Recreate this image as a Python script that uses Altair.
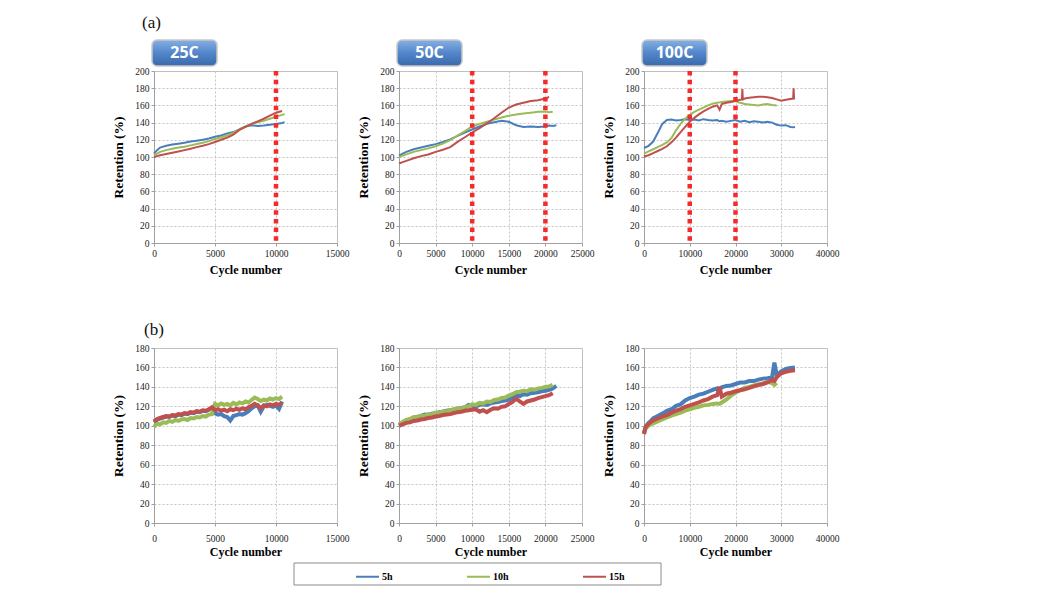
import altair as alt
import pandas as pd

SERIES = ["5h", "10h", "15h"]
COLORS = ["#4A7EBB", "#9BBB59", "#C0504D"]
SERIF = "Liberation Serif, Times New Roman, serif"

# ---------------- (a) 25C ----------------
A1_X = [0, 250, 500, 1000, 1500, 2000, 2500, 3000, 3500, 4000, 4500, 5000, 5500, 6000,
        6500, 7000, 7500, 8000, 8500, 9000, 9500, 10000, 10500, 10700]
A1_5H = [104, 108, 111, 113, 114.5, 115.5, 116.5, 118, 119, 120, 121.5, 123.5, 125, 127.5,
         129, 132, 135.5, 137, 136, 136.5, 137.5, 138.5, 139.5, 140.5]
A1_10H = [102, 104, 106, 108, 109.5, 111, 112, 113.5, 115, 116.5, 118.5, 121, 123, 125,
          128, 132, 135.5, 138.5, 140.5, 142, 144.5, 147, 149, 150]
A1_15H = [100, 101, 102, 103.5, 105, 106.5, 108, 109.5, 111.5, 113, 115, 117.5, 120, 122.5,
          126, 131.5, 135, 138.5, 141.5, 144.5, 148, 151.5, 153.5]
A1_RULES = [10000]

# ---------------- (a) 50C ----------------
A2_X = [0, 500, 1000, 2000, 3000, 4000, 5000, 6000, 7000, 8000, 9000, 10000, 11000, 12000,
        13000, 14000, 15000, 16000, 17000, 18000, 19000, 20000, 20500, 21000, 21500]
A2_5H = [101.5, 104, 106, 109, 111, 113, 115, 117.5, 120.5, 124.5, 128.5, 132, 135.5, 138.5,
         140.5, 142, 141, 137, 135, 135.5, 135, 135.5, 136.5, 136, 137]
A2_10H = [99.5, 101.5, 103, 106, 108, 110, 112.5, 115.5, 119.5, 125, 130, 135.5, 138.5, 141,
          143.5, 146, 148, 149.5, 150.5, 151.5, 152.5, 153, 152, 152.5]
A2_15H = [92.5, 94, 95.5, 98.5, 101, 103, 106, 108.5, 111.5, 117.5, 123, 128.5, 133.5, 139,
          145, 151.5, 157.5, 161, 163, 165, 166, 168, 170]
A2_RULES = [10000, 20000]

# ---------------- (a) 100C ----------------
A3_X = [0, 1000, 2000, 3000, 4000, 5000, 6000, 7000, 8000, 9000, 10000, 11000, 12000, 13000,
        14000, 15000, 16000, 16500, 17000, 18000, 19000, 20000, 21000, 21500, 22000, 23000,
        24000, 25000, 26000, 27000, 28000, 29000, 30000, 31000, 32000, 32700, 33000]
A3_5H = [110.5, 113, 118, 128, 138.5, 143, 143.5, 142.5, 143, 144, 143, 143.5, 142.5, 144,
         143, 142.5, 143, 141.5, 142, 141, 142, 143, 141, 141.5, 142, 140.5, 141.5, 141, 140,
         141, 140, 137.5, 136.5, 137, 135, 134.5, 135]
A3_10H = [104, 106.5, 109, 111.5, 114, 117, 122, 131, 138.5, 144.5, 149, 152.5, 155, 157.5,
          160, 162, 163, 163.5, 164, 164.5, 165, 165, 163, 162.5, 161.5, 161, 160.5, 160, 161,
          161.5, 160.5, 160]
A3_X_15H = [0, 1000, 2000, 3000, 4000, 5000, 6000, 7000, 8000, 9000, 10000, 11000, 12000,
            13000, 14000, 15000, 16000, 16500, 17000, 18000, 19000, 20000, 21000, 21400, 21500,
            21600, 22000, 23000, 24000, 25000, 26000, 27000, 28000, 29000, 30000, 31000, 32000,
            32600, 32700, 32800, 33000]
A3_15H = [100.5, 102, 104.5, 107, 109.5, 112.5, 117, 122.5, 129, 135, 141, 145.5, 149.5, 153,
          156, 158.5, 160, 155, 161.5, 163, 164, 165, 166.5, 167, 179, 167, 168, 169, 169.5,
          170, 170, 169.5, 168.5, 167, 165.5, 166.5, 167.5, 168, 180, 168, 168]
A3_RULES = [10000, 20000]

# ---------------- (b) panel 1 ----------------
B1_X = list(range(0, 10501, 250))
B1_5H = [103.5, 106, 107.5, 108.5, 109.5, 109, 110.5, 110, 111.5, 111, 112.5, 112, 113.5, 113,
         114.5, 114, 115.5, 115, 116.5, 118, 113, 111.5, 112, 110, 109, 105.5, 110, 111, 112,
         111.5, 113, 115, 118, 120, 121, 114.5, 120, 121.5, 120.5, 119.5, 121, 117.5, 125]
B1_10H = [99, 102, 101.5, 103.5, 103, 105, 104, 106, 105, 106.5, 107, 106, 108, 107.5, 109,
          108.5, 110, 109.5, 111.5, 112, 122.5, 121, 123, 121.5, 122.5, 121, 123.5, 122, 124,
          123, 125, 124, 126.5, 129, 127.5, 125.5, 127, 126, 128, 127, 128.5, 127.5, 130]
B1_15H = [104.5, 107, 108, 109, 110, 109.5, 111, 110.5, 112, 111.5, 113, 112.5, 114, 113.5,
          115, 114.5, 116, 115.5, 117, 119, 116, 117, 115.5, 116.5, 115, 117, 116, 117.5,
          116.5, 118, 117, 119, 120.5, 122.5, 121, 118, 121, 120, 122, 121, 122.5, 121.5, 123.5]

# ---------------- (b) panel 2 ----------------
B2_X = list(range(0, 21501, 500))
B2_5H = [101, 103.5, 105.5, 106.5, 108, 109, 110, 111.5, 111, 112.5, 113, 114, 114.5, 115.5,
         116, 116.5, 117.5, 118, 119, 121.5, 120.5, 120, 121.5, 122, 121.5, 123, 124, 124.5,
         125.5, 126, 127, 128.5, 131, 130.5, 132.5, 132, 133.5, 134, 134.5, 135.5, 136, 137,
         138.5, 141]
B2_10H = [101.5, 104, 106, 107, 109, 108.5, 110.5, 110, 112, 111.5, 113.5, 113, 115, 114.5,
          116, 117, 118, 117.5, 119.5, 120, 122, 121.5, 123.5, 123, 125, 124.5, 126.5, 127,
          128.5, 129, 131, 132.5, 134.5, 135, 136, 135.5, 137.5, 137, 138.5, 139, 140, 140.5, 142]
B2_15H = [100, 101.5, 103, 103.5, 105, 105.5, 106.5, 107, 108, 108.5, 109.5, 110, 111, 111.5,
          112, 113, 114, 114.5, 115.5, 116, 116.5, 117, 114.5, 116, 114, 116.5, 118, 117.5,
          119.5, 120, 122.5, 124.5, 128, 125, 122.5, 125, 126, 127, 128.5, 129.5, 130.5, 131.5,
          133.5]

# ---------------- (b) panel 3 ----------------
B3_X = [0, 250, 500, 1000, 1500, 2000, 3000, 4000, 5000, 6000, 7000, 8000, 9000, 10000, 11000,
        12000, 13000, 14000, 15000, 16000, 16500, 17000, 18000, 19000, 20000, 21000, 22000,
        23000, 24000, 25000, 26000, 27000, 28000, 28500, 29000, 30000, 31000, 32000, 33000]
B3_5H = [92, 97, 100, 103, 105, 107.5, 110, 112.5, 115.5, 117, 120.5, 122, 126, 128.5, 130,
         132, 133, 135, 137, 138.5, 137.5, 139.5, 141, 141.5, 143, 144.5, 144.5, 146, 146,
         147.5, 148.5, 149, 150, 165, 152, 156, 158.5, 159.5, 160]
B3_10H = [91.5, 96, 98, 100, 101.5, 102.5, 104.5, 106.5, 108.5, 110.5, 112, 113.5, 115.5, 117,
          118.5, 119.5, 121, 121.5, 122.5, 123, 122.5, 124, 127, 131, 134, 136.5, 139, 140,
          141.5, 142.5, 143.5, 145.5, 144, 142, 144]
B3_15H = [91.5, 97, 99.5, 102, 104, 105.5, 107.5, 109.5, 111, 113.5, 115.5, 117, 119.5, 121,
          122.5, 124, 126, 127.5, 130, 131.5, 140, 130, 133, 134, 135.5, 136.5, 137.5, 139,
          140.5, 142, 143, 144.5, 147, 146, 150, 154, 155.5, 156.5, 157]


def rows(pairs):
    out = []
    for name, xs, ys in pairs:
        for x, y in zip(xs, ys):
            out.append({"series": name, "x": x, "y": y})
    return pd.DataFrame(out)


color_enc = alt.Color("series:N", scale=alt.Scale(domain=SERIES, range=COLORS),
                      legend=alt.Legend(title=None))


def panel(df, xmax, xstep, ymax, height, sw, rules=None, badge=None, letter=None,
          letter_pos=(0, 0), xlabpad=2, xtitlepad=7, frame=None):
    x_enc = alt.X("x:Q", scale=alt.Scale(domain=[0, xmax], nice=False),
                  axis=alt.Axis(values=list(range(0, xmax + 1, xstep)), format="d",
                                title="Cycle number", labelPadding=xlabpad,
                                titlePadding=xtitlepad, labelFlush=False,
                                labelOverlap=False, labelFont=SERIF, titleFont=SERIF))
    y_enc = alt.Y("y:Q", scale=alt.Scale(domain=[0, ymax], nice=False),
                  axis=alt.Axis(values=list(range(0, ymax + 1, 20)), title="Retention (%)",
                                labelFlush=False, labelOverlap=False,
                                labelFont=SERIF, titleFont=SERIF))
    layers = [alt.Chart(df).mark_line(strokeWidth=sw).encode(x=x_enc, y=y_enc, color=color_enc)]
    if rules:
        layers.append(
            alt.Chart(pd.DataFrame({"x": rules})).mark_rule(
                color="#F52A2A", strokeWidth=4.5, strokeDash=[4.5, 4.2]
            ).encode(x=x_enc)
        )
    if badge:
        bdf = pd.DataFrame({"label": [badge]})
        layers.append(
            alt.Chart(bdf).mark_rect(
                cornerRadius=5, stroke="#C8C8C8", strokeWidth=1.5,
                fill=alt.Gradient(gradient="linear", x1=0, y1=0, x2=0, y2=1,
                                  stops=[alt.GradientStop(offset=0, color="#86B0E3"),
                                         alt.GradientStop(offset=0.5, color="#5286CA"),
                                         alt.GradientStop(offset=1, color="#3A69AC")])
            ).encode(x=alt.value(-2), x2=alt.value(63), y=alt.value(-31), y2=alt.value(-5))
        )
        layers.append(
            alt.Chart(bdf).mark_text(font="Open Sans", fontWeight="bold", fontSize=16,
                                     color="white", align="center", baseline="middle"
                                     ).encode(x=alt.value(30.5), y=alt.value(-18), text="label:N")
        )
    if letter:
        layers.append(
            alt.Chart(pd.DataFrame({"label": [letter]})).mark_text(
                font=SERIF, fontSize=17, align="center", baseline="middle",
                color="#111"
            ).encode(x=alt.value(letter_pos[0]), y=alt.value(letter_pos[1]), text="label:N")
        )
    if frame:
        layers.append(
            alt.Chart(pd.DataFrame({"k": [0]})).mark_rect(
                fillOpacity=0, stroke="#8C8C8C", strokeWidth=1
            ).encode(x=alt.value(frame[0]), x2=alt.value(frame[1]),
                     y=alt.value(frame[2]), y2=alt.value(frame[3]))
        )
    return alt.layer(*layers).properties(width=183, height=height)


a1 = panel(rows([("5h", A1_X, A1_5H), ("10h", A1_X, A1_10H), ("15h", A1_X, A1_15H)]),
           15000, 5000, 200, 172, 2, rules=A1_RULES, badge="25C", letter="(a)",
           letter_pos=(-2.5, -48))
a2 = panel(rows([("5h", A2_X, A2_5H), ("10h", A2_X, A2_10H), ("15h", A2_X, A2_15H)]),
           25000, 5000, 200, 172, 2, rules=A2_RULES, badge="50C")
a3 = panel(rows([("5h", A3_X, A3_5H), ("10h", A3_X, A3_10H), ("15h", A3_X_15H, A3_15H)]),
           40000, 10000, 200, 172, 2, rules=A3_RULES, badge="100C")
b1 = panel(rows([("5h", B1_X, B1_5H), ("10h", B1_X, B1_10H), ("15h", B1_X, B1_15H)]),
           15000, 5000, 180, 175, 4, letter="(b)", letter_pos=(0, -18),
           xlabpad=7, xtitlepad=4)
b2 = panel(rows([("5h", B2_X, B2_5H), ("10h", B2_X, B2_10H), ("15h", B2_X, B2_15H)]),
           25000, 5000, 180, 175, 4, xlabpad=7, xtitlepad=4,
           frame=(-105, 262, 215, 237))
b3 = panel(rows([("5h", B3_X, B3_5H), ("10h", B3_X, B3_10H), ("15h", B3_X, B3_15H)]),
           40000, 10000, 180, 175, 4, xlabpad=7, xtitlepad=4)

chart = alt.concat(a1, a2, a3, b1, b2, b3, columns=3,
                   spacing={"row": 105, "column": 62}, bounds="flush").properties(
    padding={"left": 103, "top": 5, "right": 5, "bottom": 5},
    background="white",
).configure_view(
    stroke="#BDBDBD"
).configure_axis(
    labelFont=SERIF, labelFontSize=9.5, labelColor="#222",
    titleFont=SERIF, titleFontWeight="bold", titleColor="#000",
    gridColor="#C4C4C4", gridDash=[2, 2], gridWidth=1,
    domainColor="#A0A0A0", tickColor="#A0A0A0", tickSize=3, labelPadding=2,
).configure_axisX(
    titleFontSize=12
).configure_axisY(
    titleFontSize=13.5, titlePadding=9
).configure_legend(
    orient="none", legendX=201, legendY=493, direction="horizontal",
    symbolType="stroke", symbolStrokeWidth=2, symbolSize=529,
    labelFont=SERIF, labelFontWeight="bold", labelFontSize=10,
    labelColor="#000", columnPadding=70, padding=0, labelOffset=2,
)

chart.save("out.html", embed_options={"renderer": "svg", "actions": False})
